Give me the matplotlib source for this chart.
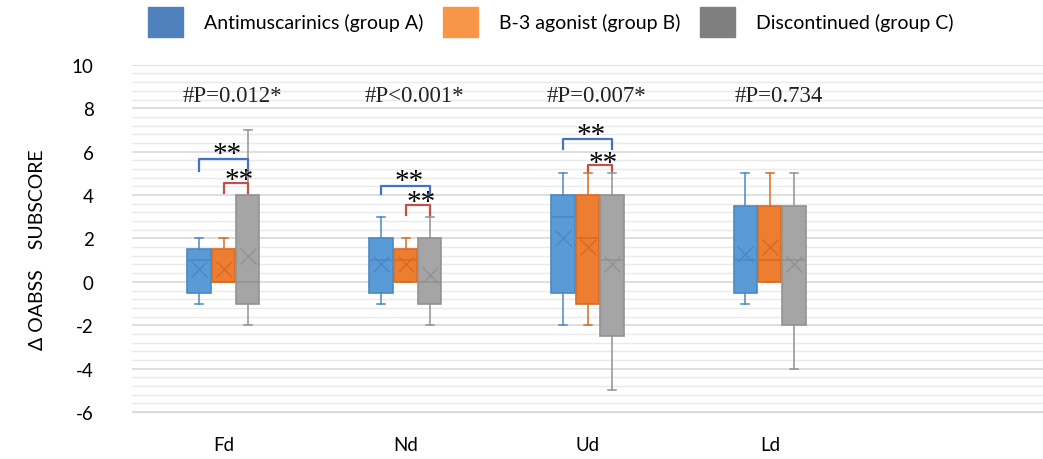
import matplotlib

matplotlib.use("Agg")
import matplotlib.pyplot as plt
from matplotlib.patches import Patch
from matplotlib.ticker import MultipleLocator

plt.rcParams["axes.unicode_minus"] = False

# data
categories = ["Fd", "Nd", "Ud", "Ld", ""]
groups = ["Antimuscarinics (group A)", "B-3 agonist (group B)", "Discontinued (group C)"]

a_low = [-1, -1, -2, -1]
a_q1 = [-0.5, -0.5, -0.5, -0.5]
a_med = [1, 1, 3, 1]
a_q3 = [1.5, 2, 4, 3.5]
a_high = [2, 3, 5, 5]
a_mean = [0.6, 0.8, 2.0, 1.3]

b_low = [0, 0, -2, 0]
b_q1 = [0, 0, -1, 0]
b_med = [0, 1, 2, 1]
b_q3 = [1.5, 1.5, 4, 3.5]
b_high = [2, 2, 5, 5]
b_mean = [0.6, 0.8, 1.6, 1.6]

c_low = [-2, -2, -5, -4]
c_q1 = [-1, -1, -2.5, -2]
c_med = [0, 0, 1, 1]
c_q3 = [4, 2, 4, 3.5]
c_high = [7, 3, 5, 5]
c_mean = [1.2, 0.3, 0.8, 0.8]

p_labels = ["#P=0.012*", "#P<0.001*", "#P=0.007*", "#P=0.734"]

# significance brackets: (category, from group, to group, bar level, leg end, star level)
brackets = [
    (0, 0, 2, 5.68, 5.1, 6.1),
    (0, 1, 2, 4.57, 4.1, 4.9),
    (1, 0, 2, 4.41, 4.06, 4.88),
    (1, 1, 2, 3.52, 3.1, 3.9),
    (2, 0, 2, 6.57, 6.14, 7.0),
    (2, 1, 2, 5.4, 5.1, 5.7),
]

box_colors = ["#5B9BD5", "#ED7D31", "#A5A5A5"]
edge_colors = ["#4A89C4", "#D86B22", "#929292"]
legend_colors = ["#4F81BD", "#F79646", "#7F7F7F"]
bracket_colors = ["#4472C4", "#C0504D"]
offsets = [-0.135, 0.0, 0.133]

fig = plt.figure(figsize=(10.43, 4.6), dpi=100)
ax = fig.add_axes([0.127, 0.102, 0.873, 0.755])

series = [
    (a_low, a_q1, a_med, a_q3, a_high, a_mean),
    (b_low, b_q1, b_med, b_q3, b_high, b_mean),
    (c_low, c_q1, c_med, c_q3, c_high, c_mean),
]

for g, (lo, q1, med, q3, hi, mean) in enumerate(series):
    stats = []
    for i in range(len(lo)):
        stats.append({"whislo": lo[i], "q1": q1[i], "med": med[i], "q3": q3[i],
                      "whishi": hi[i], "mean": mean[i], "fliers": []})
    pos = [i + offsets[g] for i in range(len(lo))]
    ec = edge_colors[g]
    ax.bxp(
        stats,
        positions=pos,
        widths=0.128,
        capwidths=0.045,
        patch_artist=True,
        showmeans=True,
        showfliers=False,
        boxprops=dict(facecolor=box_colors[g], edgecolor=ec, linewidth=1.2),
        medianprops=dict(color=ec, linewidth=1.2),
        whiskerprops=dict(color=ec, linewidth=1.1),
        capprops=dict(color=ec, linewidth=1.1),
        meanprops=dict(marker="x", markeredgecolor=ec, markersize=12, markeredgewidth=1.0),
        zorder=3,
    )

# brackets and stars
for cat, g1, g2, top, leg, star in brackets:
    x1 = cat + offsets[g1]
    x2 = cat + offsets[g2]
    col = bracket_colors[0] if g1 == 0 else bracket_colors[1]
    ax.plot([x1, x1, x2, x2], [leg, top, top, leg], color=col, linewidth=1.6, zorder=4)
    # the asterisk glyph sits high in its box, so nudge the text down
    ax.text((x1 + x2) / 2 + 0.02, star - 0.22, "**", ha="center", va="center",
            fontsize=21, family="Liberation Serif", zorder=5)

for i, lab in enumerate(p_labels):
    ax.text(i + 0.05, 8.6, lab, ha="center", va="center", fontsize=16.5,
            family="Liberation Serif", color="#222222")

ax.set_xlim(-0.5, 4.5)
ax.set_ylim(-6, 10)
ax.set_xticks(range(len(categories)))
ax.set_xticklabels(categories, fontsize=13.5, family="Lato")
ax.yaxis.set_major_locator(MultipleLocator(2))
ax.yaxis.set_minor_locator(MultipleLocator(0.4))
for t in ax.get_yticklabels():
    t.set_family("Lato")
    t.set_fontsize(13.5)
ax.tick_params(axis="y", which="both", length=0, pad=28)
ax.tick_params(axis="x", length=0, pad=17)
ax.grid(True, which="major", axis="y", color="#D9D9D9", linewidth=1.2, zorder=0)
ax.grid(True, which="minor", axis="y", color="#EAEAEA", linewidth=1.0, zorder=0)
ax.set_axisbelow(True)
for side in ["left", "right", "top"]:
    ax.spines[side].set_visible(False)
ax.spines["bottom"].set_color("#D9D9D9")

ax.set_ylabel("Δ OABSS    SUBSCORE", fontsize=14, family="Lato")
ax.yaxis.set_label_coords(-0.095, 0.47)

handles = [Patch(facecolor=c, edgecolor=c) for c in legend_colors]
fig.legend(handles, groups, loc="center", bbox_to_anchor=(0.528, 0.95), ncol=3,
           frameon=False, handlelength=1.8, handleheight=2.0, handletextpad=1.1,
           columnspacing=1.0, prop={"family": "Lato", "size": 14})

fig.savefig("out.png", dpi=100)
